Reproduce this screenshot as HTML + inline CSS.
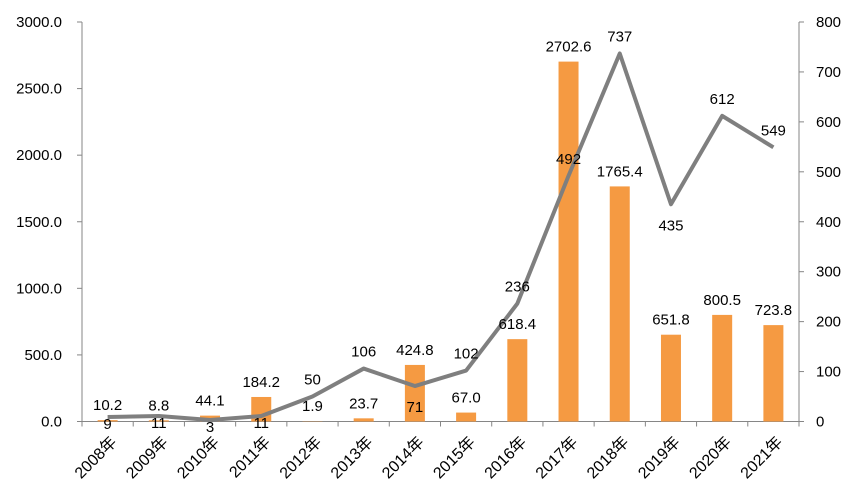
<!DOCTYPE html>
<html><head><meta charset="utf-8"><style>
body{margin:0;background:#fff;}
svg text{font-family:"Liberation Sans","Noto Sans CJK SC",sans-serif;font-size:15px;fill:#000;}
svg text.xl{font-size:16px;}
</style></head><body>
<svg width="862" height="483">
<g id="g"></g>
</svg>
<script>
const categories=["2008年","2009年","2010年","2011年","2012年","2013年","2014年","2015年","2016年","2017年","2018年","2019年","2020年","2021年"];
const barValues=[10.2,8.8,44.1,184.2,1.9,23.7,424.8,67.0,618.4,2702.6,1765.4,651.8,800.5,723.8];
const lineValues=[9,11,3,11,50,106,71,102,236,492,737,435,612,549];
const leftTicks=[0,500,1000,1500,2000,2500,3000];
const rightTicks=[0,100,200,300,400,500,600,700,800];
const X0=82,X1=799,Y0=421.5,Y1=22;
const cw=(X1-X0)/categories.length;
const xc=i=>X0+(i+0.5)*cw;
const yl=v=>Y0-(v/3000)*(Y0-Y1);
const yr=v=>Y0-(v/800)*(Y0-Y1);
const g=document.getElementById('g');
const NS="http://www.w3.org/2000/svg";
function mk(t,a,txt){const e=document.createElementNS(NS,t);for(const k in a)e.setAttribute(k,a[k]);if(txt!==undefined)e.textContent=txt;g.appendChild(e);return e;}
let e;
e=mk('line',{x1:X0,y1:Y1,x2:X0,y2:Y0,stroke:'#868686'});


e=mk('line',{x1:X1,y1:Y1,x2:X1,y2:Y0,stroke:'#868686'});


e=mk('line',{x1:X0,y1:Y0,x2:X1,y2:Y0,stroke:'#868686'});


leftTicks.forEach(v=>{
 e=mk('line',{x1:X0-5,y1:yl(v),x2:X0,y2:yl(v),stroke:'#868686'});
 
 
 e=mk('text',{x:62,y:yl(v)+5,'text-anchor':'end'},v.toFixed(1));
 
 
});
rightTicks.forEach(v=>{
 e=mk('line',{x1:X1,y1:yr(v),x2:X1+5,y2:yr(v),stroke:'#868686'});
 
 
 e=mk('text',{x:816,y:yr(v)+5},String(v));
 
 
});
for(let i=0;i<=categories.length;i++){
 e=mk('line',{x1:X0+i*cw,y1:Y0,x2:X0+i*cw,y2:Y0+5,stroke:'#868686'});
 
 
}
categories.forEach((c,i)=>{
 const x=xc(i);
 e=mk('rect',{x:x-10,y:yl(barValues[i]),width:20,height:Y0-yl(barValues[i]),fill:'#f59a42'});
 
 
 e=mk('text',{x:x+10,y:443,'text-anchor':'end','class':'xl',transform:`rotate(-45 ${x+10} 443)`},c);
 
 
});
let d=lineValues.map((v,i)=>(i?'L':'M')+xc(i)+' '+yr(v)).join(' ');
e=mk('path',{d:d,fill:'none',stroke:'#7f7f7f','stroke-width':4,'stroke-linejoin':'round'});


categories.forEach((c,i)=>{
 const x=xc(i);
 e=mk('text',{x:x,y:yl(barValues[i])-10,'text-anchor':'middle'},barValues[i].toFixed(1));
 
 
 const up=i==0?false:(i==lineValues.length-1||lineValues[i]>=lineValues[i-1]);
 const ly=i<4?yr(lineValues[i])+12:(up?yr(lineValues[i])-12:yr(lineValues[i])+26);
 e=mk('text',{x:x,y:ly,'text-anchor':'middle'},String(lineValues[i]));
 
 
});
</script>
</body></html>
